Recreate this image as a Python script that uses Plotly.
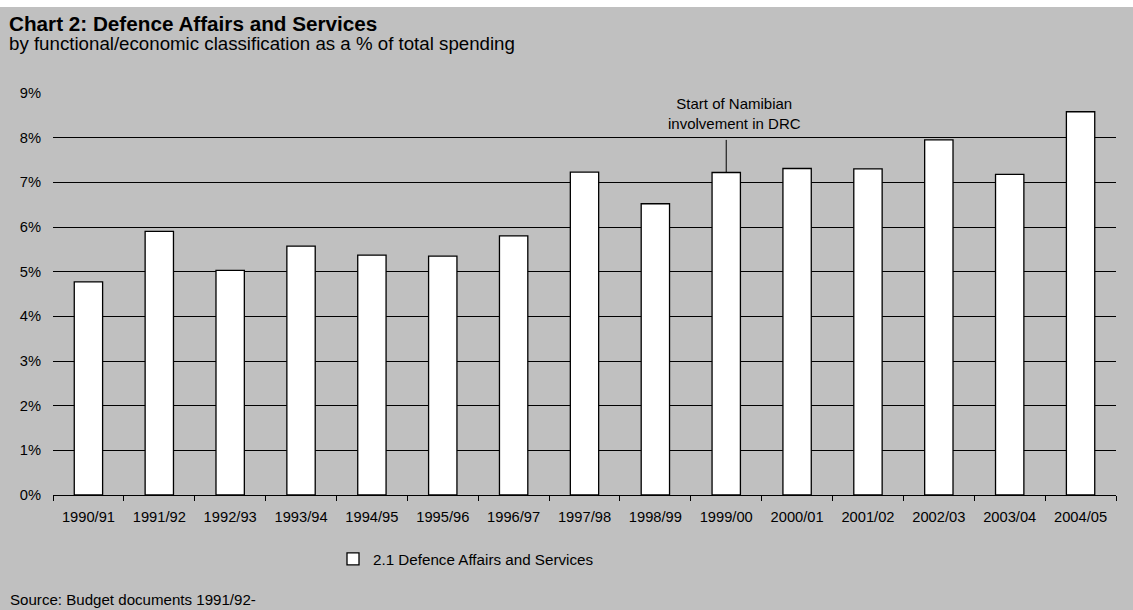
import plotly.graph_objects as go

# Data: Defence Affairs and Services as a share of total spending (%)
years = ["1990/91", "1991/92", "1992/93", "1993/94", "1994/95", "1995/96",
         "1996/97", "1997/98", "1998/99", "1999/00", "2000/01", "2001/02",
         "2002/03", "2003/04", "2004/05"]
defence_share = [4.77, 5.90, 5.03, 5.57, 5.37, 5.35, 5.80, 7.23, 6.52,
                 7.22, 7.31, 7.30, 7.95, 7.18, 8.58]
y_ticks = [0, 1, 2, 3, 4, 5, 6, 7, 8, 9]
series_name = "2.1 Defence Affairs and Services"
event_year = "1999/00"
event_label = "Start of Namibian<br>involvement in DRC"
chart_title = "Chart 2: Defence Affairs and Services"
chart_subtitle = "by functional/economic classification as a % of total spending"
source_note = "Source: Budget documents 1991/92-"

W, H = 1133, 610
L, R, T, B = 53, 17, 93, 115
PW, PH = W - L - R, H - T - B
BG = "#C0C0C0"
FONT = "Liberation Sans, Arial, sans-serif"


def px_x(px):
    return (px - L) / PW


def px_y(py):
    return (H - B - py) / PH


fig = go.Figure()
fig.add_trace(go.Bar(
    x=years, y=defence_share, name=series_name,
    marker=dict(color="white", line=dict(color="black", width=1.3)),
    width=0.4, showlegend=True,
))

# Leader line from the 1999/00 bar up to the note
ev_idx = years.index(event_year)
ev_val = defence_share[ev_idx]
fig.add_shape(type="line", xref="x", yref="y",
              x0=ev_idx, x1=ev_idx, y0=ev_val, y1=7.95,
              line=dict(color="black", width=1))
fig.add_annotation(text=event_label, xref="x", yref="paper",
                   x=ev_idx, xshift=8, y=px_y(113.5), yanchor="middle",
                   showarrow=False, align="center",
                   font=dict(family=FONT, size=15, color="black"))

# Title block (bold heading + subtitle on a second line)
title_block = (f"<b><span style='font-size:20.7px'>{chart_title}</span></b><br>"
               f"<span style='font-size:18.7px'>{chart_subtitle}</span>")
fig.add_annotation(text=title_block, xref="paper", yref="paper",
                   x=px_x(7), y=px_y(10), xanchor="left", yanchor="top",
                   align="left", showarrow=False,
                   font=dict(family=FONT, size=14.4, color="black"))
fig.add_annotation(text=source_note,
                   xref="paper", yref="paper", x=px_x(8), y=px_y(599),
                   xanchor="left", yanchor="middle", showarrow=False,
                   font=dict(family=FONT, size=15.1, color="black"))

# White strip along the top edge
fig.add_shape(type="rect", xref="paper", yref="paper",
              x0=px_x(0), x1=px_x(W), y0=px_y(7), y1=px_y(0),
              fillcolor="white", line=dict(width=0), layer="above")

fig.update_layout(
    width=W, height=H, autosize=False,
    margin=dict(l=L, r=R, t=T, b=B, pad=0),
    paper_bgcolor=BG, plot_bgcolor=BG,
    font=dict(family=FONT, size=14.7, color="black"),
    bargap=0.6,
    showlegend=True,
    legend=dict(orientation="h", x=px_x(333), y=px_y(559),
                xanchor="left", yanchor="middle",
                bgcolor="rgba(0,0,0,0)", itemwidth=30,
                font=dict(family=FONT, size=15.2, color="black")),
    xaxis=dict(type="category", showline=True, linecolor="black", linewidth=1,
               ticks="outside", tickson="boundaries", ticklen=5,
               tickcolor="black", tickwidth=1, showgrid=False,
               ticklabelstandoff=8, tickfont=dict(size=14.7)),
    yaxis=dict(range=[0, 9], tickvals=y_ticks,
               ticktext=[f"{v}%" for v in y_ticks],
               showgrid=True, gridcolor="black", gridwidth=1,
               showline=False, zeroline=False, ticks="",
               ticklabelstandoff=11, tickfont=dict(size=14.7)),
)

fig.write_html("out.html")
